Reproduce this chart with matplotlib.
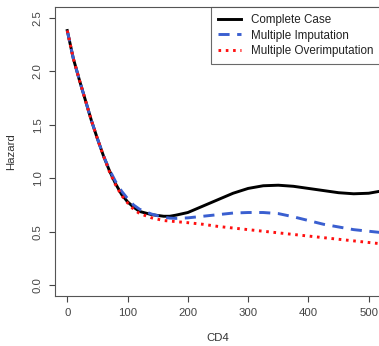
import matplotlib
matplotlib.use("Agg")
import matplotlib.pyplot as plt

# values
cd4 = [0, 10, 20, 30, 40, 50, 60, 70, 80, 90, 100, 110, 120, 140, 160, 170,
       180, 200, 225, 250, 275, 300, 325, 350, 375, 400, 425, 450, 475, 500, 525]
complete_case = [2.38, 2.12, 1.92, 1.73, 1.54, 1.37, 1.21, 1.07, 0.95, 0.85, 0.78,
                 0.73, 0.69, 0.66, 0.645, 0.645, 0.655, 0.68, 0.74, 0.80, 0.86,
                 0.905, 0.93, 0.935, 0.925, 0.905, 0.885, 0.865, 0.855, 0.86, 0.885]
multiple_imputation = [2.38, 2.12, 1.92, 1.73, 1.54, 1.37, 1.21, 1.08, 0.97, 0.88,
                       0.81, 0.75, 0.71, 0.665, 0.635, 0.628, 0.625, 0.63, 0.645,
                       0.66, 0.675, 0.68, 0.68, 0.67, 0.64, 0.605, 0.57, 0.545,
                       0.52, 0.505, 0.49]
multiple_overimputation = [2.38, 2.12, 1.92, 1.73, 1.54, 1.37, 1.21, 1.06, 0.94,
                           0.84, 0.77, 0.71, 0.67, 0.63, 0.605, 0.6, 0.595, 0.585,
                           0.57, 0.55, 0.535, 0.52, 0.505, 0.49, 0.475, 0.46, 0.445,
                           0.43, 0.415, 0.40, 0.385]
labels = ["Complete Case", "Multiple Imputation", "Multiple Overimputation"]
xticks = [0, 100, 200, 300, 400, 500]
yticks = [0.0, 0.5, 1.0, 1.5, 2.0, 2.5]

plt.rcParams["font.family"] = ["Liberation Sans", "DejaVu Sans"]
W, H = 379, 346
fig = plt.figure(figsize=(W / 100, H / 100), dpi=100)
ax = fig.add_axes([55.2 / W, 50 / H, 325.6 / W, 289 / H])

ax.plot(cd4, complete_case, color="black", lw=2.1, label=labels[0])
ax.plot(cd4, multiple_imputation, color="#3a5fd0", lw=2.1, ls=(0, (3.8, 2.6)),
        label=labels[1])
ax.plot(cd4, multiple_overimputation, color="#ff1010", lw=2.1, ls=(0, (0.9, 1.6)),
        label=labels[2])

ax.set_xlim(-20, 520)
ax.set_ylim(-0.1, 2.6)
ax.set_xticks(xticks)
ax.set_xticklabels([str(t) for t in xticks])
ax.set_yticks(yticks)
ax.set_yticklabels([f"{t:.1f}" for t in yticks], rotation=90, va="center")
ax.tick_params(labelsize=8.2, colors="#444444", length=4, width=0.8, pad=5)
for s in ax.spines.values():
    s.set_color("#555555"); s.set_linewidth(0.8)

ax.set_xlabel("CD4", fontsize=8.2, color="#333333")
ax.set_ylabel("Hazard", fontsize=8.2, color="#333333")
ax.xaxis.set_label_coords((217.5 - 55.2) / 325.6, -(333 - 296) / 289)
ax.yaxis.set_label_coords(-(55.2 - 16) / 325.6, 0.5)

leg = ax.legend(loc="upper right", bbox_to_anchor=(1, 1), borderaxespad=0,
                fontsize=8.4, frameon=True, fancybox=False, handlelength=2.0,
                handletextpad=0.85, borderpad=0.6, labelspacing=0.3)
leg.get_frame().set_edgecolor("#444444")
leg.get_frame().set_linewidth(0.8)
for t in leg.get_texts():
    t.set_color("#222222")

fig.savefig("out.png", dpi=100)
